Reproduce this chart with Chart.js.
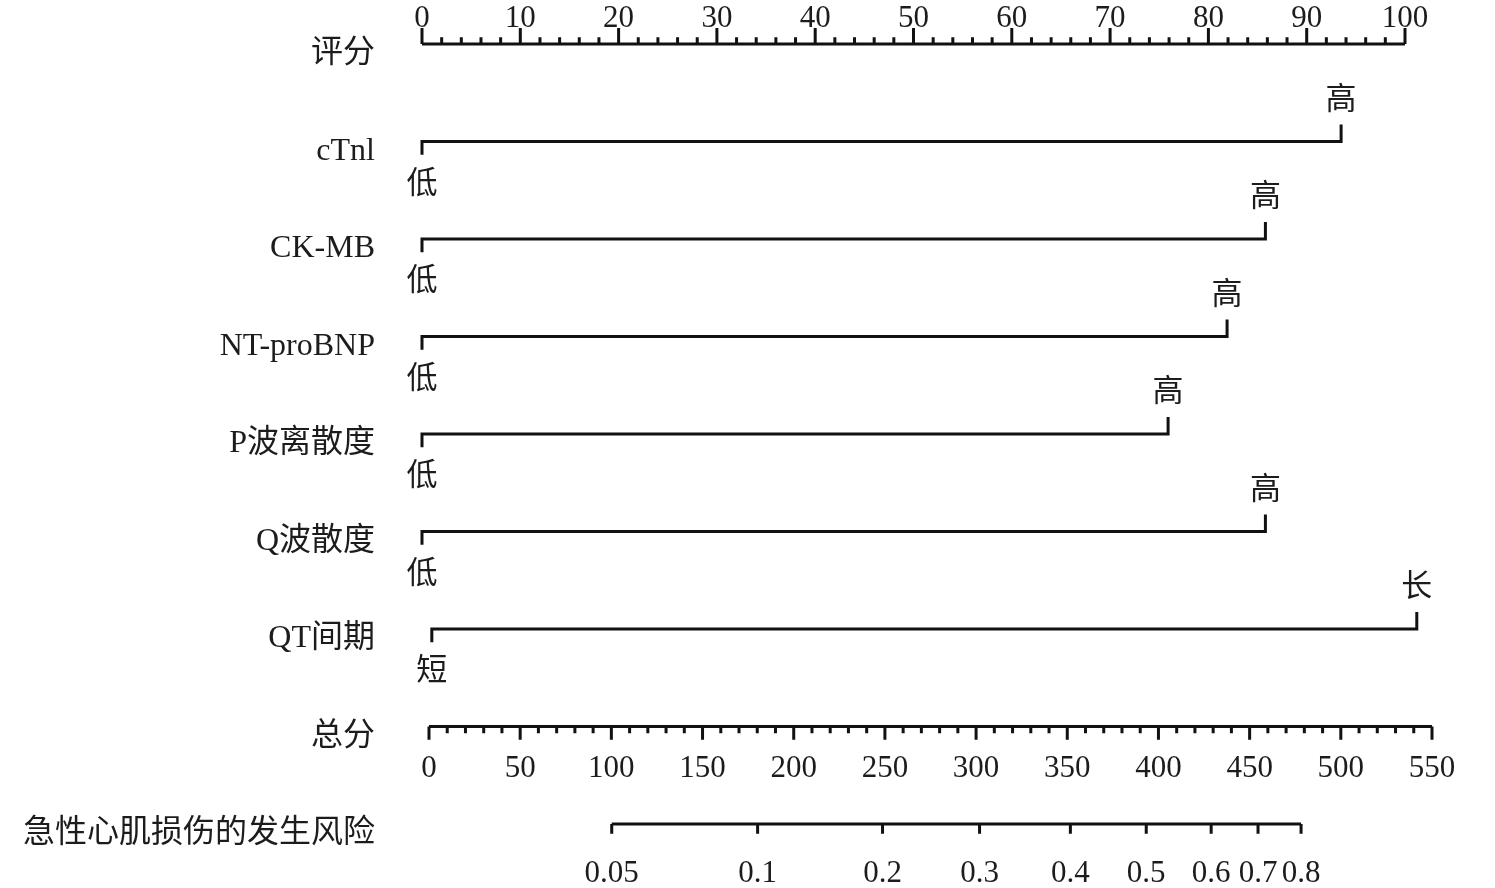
<!DOCTYPE html>
<html>
<head>
<meta charset="utf-8">
<script src="https://cdn.jsdelivr.net/npm/chart.js@4.4.1/dist/chart.umd.min.js"></script>
<style>
  html, body { margin: 0; padding: 0; background: #fff; }
</style>
</head>
<body>
<canvas id="nomo" width="1495" height="888"></canvas>
<script>
// rows of the nomogram, top to bottom
const rowLabels = ['评分', 'cTnl', 'CK-MB', 'NT-proBNP', 'P波离散度', 'Q波散度', 'QT间期', '总分', '急性心肌损伤的发生风险'];

// predictor bars, in points (0-100)
const lowValues = [0, 0, 0, 0, 0, 1];
const highValues = [93.5, 85.8, 81.9, 75.9, 85.8, 101.2];
const lowTexts = ['低', '低', '低', '低', '低', '短'];
const highTexts = ['高', '高', '高', '高', '高', '长'];

// axis tick labels
const pointTicks = [0, 10, 20, 30, 40, 50, 60, 70, 80, 90, 100];
const totalTicks = [0, 50, 100, 150, 200, 250, 300, 350, 400, 450, 500, 550];
const riskLabels = ['0.05', '0.1', '0.2', '0.3', '0.4', '0.5', '0.6', '0.7', '0.8'];
const riskTotals = [100.2, 180.2, 248.7, 301.9, 351.7, 393.3, 428.9, 454.6, 478.2];

const FONT = '"Liberation Serif", "Noto Sans CJK SC", serif';
const INK = '#1c1c1c';
const GAP = {x: null, y: null};

// rulers: line + tick marks, separated by gaps
function ruler(row, from, to, step, majorEvery, minorLen, majorLen, dir) {
    const pts = [{x: from, y: row}, {x: to, y: row}, GAP];
    for (let v = from; v <= to + 1e-9; v += step) {
        const len = (Math.round(v) % majorEvery === 0) ? majorLen : minorLen;
        pts.push({x: v, y: row}, {x: v, y: row + dir * len}, GAP);
    }
    return pts;
}

const pointsRuler = ruler(0, 0, 100, 2, 10, 0.07, 0.165, -1);
const totalRuler = ruler(7, 0, 550, 10, 50, 0.07, 0.135, 1);

const riskRuler = [{x: riskTotals[0], y: 8}, {x: riskTotals[riskTotals.length - 1], y: 8}, GAP];
riskTotals.forEach(v => riskRuler.push({x: v, y: 8}, {x: v, y: 8.1}, GAP));

const bars = [];
lowValues.forEach((lo, i) => {
    const r = i + 1;
    bars.push({x: lo, y: r + 0.135}, {x: lo, y: r}, {x: highValues[i], y: r}, {x: highValues[i], y: r - 0.175}, GAP);
});

function lineSet(data, xAxisID) {
    return {
        data, xAxisID, yAxisID: 'y',
        borderColor: '#111', borderWidth: 3, pointRadius: 0,
        fill: false, spanGaps: false, clip: false, tension: 0,
        borderJoinStyle: 'miter', borderCapStyle: 'butt',
    };
}

const endLabels = {
    id: 'endLabels',
    afterDatasetsDraw(chart) {
        const {ctx} = chart;
        const xp = chart.scales.xp, y = chart.scales.y;
        ctx.save();
        ctx.font = '31px ' + FONT;
        ctx.fillStyle = INK;
        ctx.textAlign = 'center';
        ctx.textBaseline = 'middle';
        lowValues.forEach((lo, i) => {
            const py = y.getPixelForValue(i + 1);
            ctx.fillText(lowTexts[i], xp.getPixelForValue(lo), py + 43);
            ctx.fillText(highTexts[i], xp.getPixelForValue(highValues[i]), py - 41);
        });
        ctx.restore();
    },
};

const hidden = {grid: {display: false, drawTicks: false}, border: {display: false}};
const tickFont = {family: FONT, size: 31};

new Chart(document.getElementById('nomo'), {
    type: 'line',
    data: {
        datasets: [
            lineSet(pointsRuler, 'xp'),
            lineSet(bars, 'xp'),
            lineSet(totalRuler, 'xt'),
            lineSet(riskRuler, 'xr'),
        ],
    },
    options: {
        responsive: false,
        animation: false,
        devicePixelRatio: 1,
        layout: {padding: {left: 0, right: 45, top: 0, bottom: 8}},
        plugins: {legend: {display: false}, tooltip: {enabled: false}},
        scales: {
            y: {
                type: 'linear', reverse: true, min: -0.041, max: 8.574,
                ...hidden,
                afterFit: s => { s.width = 400; s.paddingTop = 0; s.paddingBottom = 0; },
                afterBuildTicks: s => { s.ticks = rowLabels.map((_, i) => ({value: i})); },
                ticks: {
                    padding: 25, labelOffset: 10, autoSkip: false, color: INK,
                    font: {family: FONT, size: 32},
                    callback: v => rowLabels[v],
                },
            },
            xp: {
                type: 'linear', position: 'top', min: -2.238, max: 104.578,
                ...hidden,
                afterFit: s => { s.height = 40; s.paddingLeft = 0; s.paddingRight = 0; },
                afterBuildTicks: s => { s.ticks = pointTicks.map(v => ({value: v})); },
                ticks: {padding: 3, autoSkip: false, maxRotation: 0, color: INK, font: tickFont},
            },
            xt: {
                type: 'linear', position: {y: 7}, min: -15.90, max: 559.87,
                ...hidden,
                afterFit: s => { s.height = 0; s.paddingLeft = 0; s.paddingRight = 0; },
                afterBuildTicks: s => { s.ticks = totalTicks.map(v => ({value: v})); },
                ticks: {padding: 24, autoSkip: false, maxRotation: 0, color: INK, font: tickFont},
            },
            xr: {
                type: 'linear', position: {y: 8}, min: -15.90, max: 559.87,
                ...hidden,
                afterFit: s => { s.height = 0; s.paddingLeft = 0; s.paddingRight = 0; },
                afterBuildTicks: s => { s.ticks = riskTotals.map(v => ({value: v})); },
                ticks: {
                    padding: 31, autoSkip: false, maxRotation: 0, color: INK, font: tickFont,
                    callback: (v, i) => riskLabels[i],
                },
            },
        },
    },
    plugins: [endLabels],
});
</script>
</body>
</html>
